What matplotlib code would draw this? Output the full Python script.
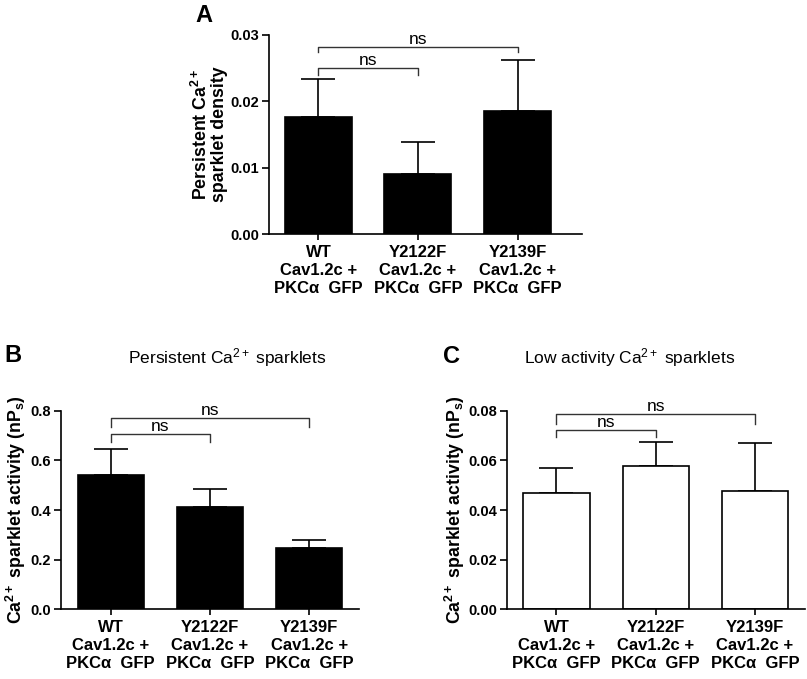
import matplotlib
matplotlib.use("Agg")
import matplotlib.pyplot as plt
import numpy as np

plt.rcParams['font.family'] = ['Liberation Sans', 'DejaVu Sans']
plt.rcParams['mathtext.fontset'] = 'custom'
plt.rcParams['mathtext.rm'] = 'Liberation Sans'
plt.rcParams['mathtext.bf'] = 'Liberation Sans:bold'
plt.rcParams['mathtext.it'] = 'Liberation Sans:italic'
plt.rcParams['mathtext.default'] = 'rm'

categories = ["WT\nCav1.2c +\nPKC\u03b1  GFP",
              "Y2122F\nCav1.2c +\nPKC\u03b1  GFP",
              "Y2139F\nCav1.2c +\nPKC\u03b1  GFP"]

density_mean = [0.0176, 0.0090, 0.0185]
density_sem = [0.0057, 0.0049, 0.0077]

persistent_mean = [0.541, 0.413, 0.247]
persistent_sem = [0.105, 0.073, 0.031]

low_mean = [0.0467, 0.0576, 0.0478]
low_sem = [0.0101, 0.0098, 0.0191]

yticks_A = [0.00, 0.01, 0.02, 0.03]
yticks_B = [0.0, 0.2, 0.4, 0.6, 0.8]
yticks_C = [0.00, 0.02, 0.04, 0.06, 0.08]

W, H = 807, 679
fig = plt.figure(figsize=(W/100, H/100), dpi=100)

def fc(l, r, top, bot):
    return [l/W, 1-bot/H, (r-l)/W, (bot-top)/H]

axA = fig.add_axes(fc(269, 582, 35, 234))
axB = fig.add_axes(fc(60.7, 359, 410.7, 609.3))
axC = fig.add_axes(fc(507.3, 805, 410.7, 609.3))

def style(ax, means, sems, yticks, fmt, fill, xlim, width):
    x = np.arange(len(means))
    ax.bar(x, means, width=width, color=fill, edgecolor='black', linewidth=1.2, zorder=2)
    ax.errorbar(x, means, yerr=[np.zeros(len(sems)), sems], fmt='none',
                ecolor='black', elinewidth=1.2, capsize=12, capthick=1.2, zorder=1)
    ax.set_xlim(*xlim)
    ax.set_ylim(yticks[0], yticks[-1])
    ax.set_yticks(yticks)
    ax.set_yticklabels([fmt.format(v) for v in yticks], fontsize=10.5, fontweight='bold')
    ax.set_xticks(x)
    ax.set_xticklabels(categories, fontsize=12, fontweight='bold', linespacing=1.25)
    for s in ['top', 'right']:
        ax.spines[s].set_visible(False)
    for s in ['left', 'bottom']:
        ax.spines[s].set_linewidth(1.2)
    ax.tick_params(axis='y', length=5, width=1.2, pad=2)
    ax.tick_params(axis='x', length=4, width=1.2, pad=4)
    ax.spines['left'].set_bounds(yticks[0], yticks[-1])

def bracket(ax, x1, x2, y, leg1, leg2):
    ax.plot([x1, x1, x2, x2], [leg1, y, y, leg2], color='#333333', lw=1.0, clip_on=False)
    ax.text((x1+x2)/2, y, "ns", ha='center', va='bottom', fontsize=12.5)

style(axA, density_mean, density_sem, yticks_A, "{:.2f}", 'black', (-0.497, 2.648), 0.673)
style(axB, persistent_mean, persistent_sem, yticks_B, "{:.1f}", 'black', (-0.505, 2.502), 0.668)
style(axC, low_mean, low_sem, yticks_C, "{:.2f}", 'white', (-0.496, 2.506), 0.668)

bracket(axA, 0, 2, 0.0282, 0.0275, 0.0275)
bracket(axA, 0, 1, 0.0251, 0.0240, 0.0240)
bracket(axB, 0, 2, 0.771, 0.736, 0.736)
bracket(axB, 0, 1, 0.706, 0.673, 0.673)
bracket(axC, 0, 2, 0.0785, 0.0745, 0.0745)
bracket(axC, 0, 1, 0.0723, 0.0693, 0.0693)

axA.set_ylabel("Persistent Ca$^{\\mathbf{2+}}$\nsparklet density", fontsize=12.8, fontweight='bold', linespacing=1.05)
axB.set_ylabel("Ca$^{\\mathbf{2+}}$ sparklet activity (nP$_{\\mathbf{s}}$)", fontsize=12.8, fontweight='bold')
axC.set_ylabel("Ca$^{\\mathbf{2+}}$ sparklet activity (nP$_{\\mathbf{s}}$)", fontsize=12.8, fontweight='bold')
axA.yaxis.set_label_coords(-0.19, 0.5)
axB.yaxis.set_label_coords(-0.15, 0.5)
axC.yaxis.set_label_coords(-0.176, 0.5)
for ax in (axA, axB, axC):
    ax.yaxis.label.set_va('center')

fig.text(227/W, 1-358/H, "Persistent Ca$^{2+}$ sparklets", ha='center', va='center', fontsize=12.5)
fig.text(630/W, 1-358/H, "Low activity Ca$^{2+}$ sparklets", ha='center', va='center', fontsize=12.5)

fig.text(204/W, 1-16/H, "A", ha='center', va='center', fontsize=17, fontweight='bold')
fig.text(12.5/W, 1-356/H, "B", ha='center', va='center', fontsize=17, fontweight='bold')
fig.text(452/W, 1-356.5/H, "C", ha='center', va='center', fontsize=17, fontweight='bold')

fig.savefig("out.png", dpi=100)
